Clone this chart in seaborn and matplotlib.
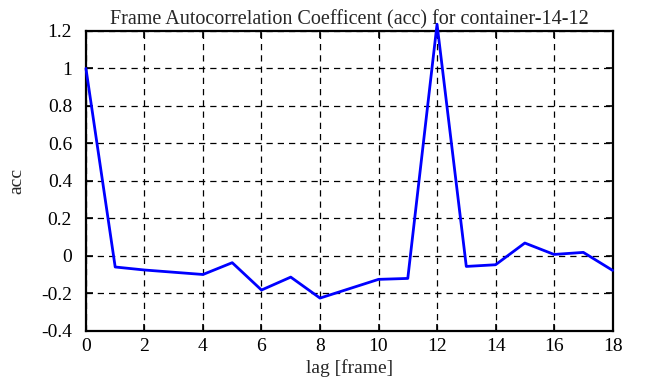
import numpy as np
import pandas as pd
import seaborn as sns
from matplotlib import pyplot as plt

# autocorrelation values
lag = [0, 1, 2, 3, 4, 5, 6, 7, 8, 9, 10, 11, 12, 13, 14, 15, 16, 17, 18]
acc = [1.0, -0.06, -0.076, -0.088, -0.10, -0.037, -0.183, -0.114, -0.226, -0.176,
       -0.126, -0.121, 1.236, -0.057, -0.048, 0.068, 0.007, 0.018, -0.078]
xticks = list(range(0, 19, 2))
yticks = [-0.4, -0.2, 0, 0.2, 0.4, 0.6, 0.8, 1, 1.2]
ytick_labels = ["-0.4", "-0.2", "0", "0.2", "0.4", "0.6", "0.8", "1", "1.2"]

df = pd.DataFrame({"lag": lag, "acc": acc})

sns.set_style("ticks")
plt.rcParams['font.family'] = ['Liberation Serif', 'DejaVu Serif']

fig = plt.figure(figsize=(6.51, 3.87), dpi=100)
ax = fig.add_axes([0.132, 0.1455, 0.809, 0.7745])
sns.lineplot(data=df, x="lag", y="acc", color="#0000ff", linewidth=2, ax=ax, clip_on=False, zorder=5)

ax.set_xlim(0, 18)
ax.set_ylim(-0.4, 1.2)
ax.set_xticks(xticks)
ax.set_yticks(yticks)
ax.set_yticklabels(ytick_labels)
ax.grid(True, color="black", linestyle=(0, (5, 4)), linewidth=0.9)
ax.tick_params(direction="in", top=True, right=True, length=5, width=1.2, labelsize=14, colors="black")
ax.tick_params(axis="y", pad=10)
ax.tick_params(axis="x", pad=5)
for s in ax.spines.values():
    s.set_visible(True)
    s.set_linewidth(1.6)
    s.set_color("black")

ax.set_xlabel("lag [frame]", fontsize=14, labelpad=3)
ax.set_ylabel("acc", fontsize=14, labelpad=11)
ax.set_title("Frame Autocorrelation Coefficent (acc) for container-14-12", fontsize=14.5, pad=5)

plt.savefig("out.png", dpi=100)
